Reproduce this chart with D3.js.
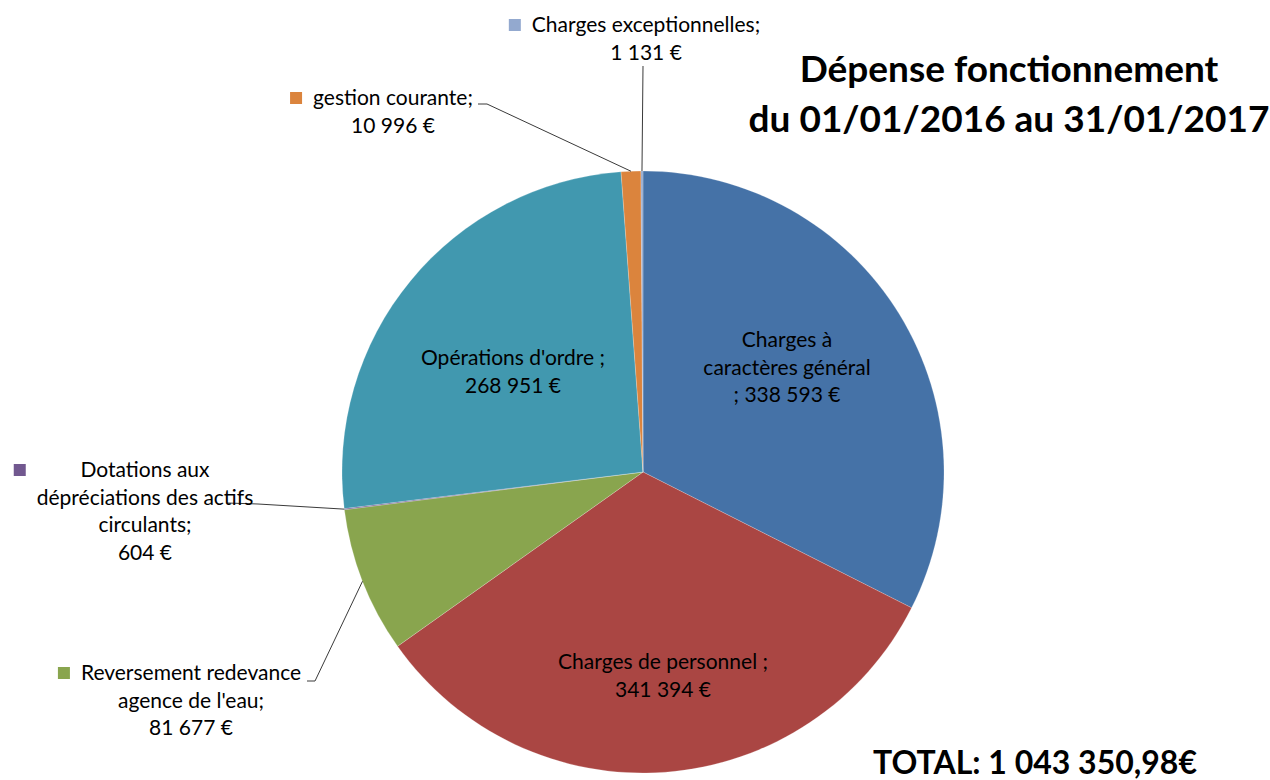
<!DOCTYPE html>
<html>
<head>
<meta charset="utf-8">
<script src="https://cdn.jsdelivr.net/npm/d3@7"></script>
<style>
  body { margin: 0; background: #fff; }
  text { font-family: Lato, "Open Sans", sans-serif; fill: #000; }
</style>
</head>
<body>
<div id="chart"></div>
<script>
// data, slices clockwise from 12 o'clock
var categories = ["Charges à caractères général", "Charges de personnel",
  "Reversement redevance agence de l'eau", "Dotations aux dépréciations des actifs circulants",
  "Opérations d'ordre", "gestion courante", "Charges exceptionnelles"];
var values = [338593, 341394, 81677, 604, 268951, 10996, 1131];
var labelLines = [
  ["Charges à", "caractères général", ";  338 593 €"],
  ["Charges de personnel ;", "341 394 €"],
  ["Reversement redevance", "agence de l'eau;", "81 677 €"],
  ["Dotations aux", "dépréciations des actifs", "circulants;", "604 €"],
  ["Opérations d'ordre ;", "268 951 €"],
  ["gestion courante;", "10 996 €"],
  ["Charges exceptionnelles;", "1 131 €"]
];
var colors = ["#4572A7", "#AA4643", "#89A54E", "#71588F", "#4198AF", "#DB843D", "#93A9CF"];
var titleLines = ["Dépense fonctionnement", "du 01/01/2016 au 31/01/2017"];
var totalLabel = "TOTAL: 1 043 350,98€";

// where each label sits (first baseline), and the label end of its leader line
var labelLayout = [
  {cx: 787, y: 347},
  {cx: 663, y: 669},
  {cx: 191, y: 680, key: true, leader: [[307, 681], [315, 681]]},
  {cx: 145, y: 477, key: true, leader: [[227, 503], [258, 504]]},
  {cx: 513, y: 365},
  {cx: 393, y: 105, key: true, leader: [[478, 104], [487, 104]]},
  {cx: 646, y: 32, key: true, leader: [[643, 66]]}
];

var svgWidth = 1270, svgHeight = 780;
var cx = 643, cy = 472, radius = 301;
var lineH = 27.5;

var svg = d3.select('#chart').append('svg')
  .attr('width', svgWidth).attr('height', svgHeight);

var pie = d3.pie().sort(null).value(d => d);
var arcs = pie(values);
var arc = d3.arc().innerRadius(0).outerRadius(radius);
var edge = d3.arc().innerRadius(radius).outerRadius(radius);

var pieGroup = svg.append('g').attr('transform', `translate(${cx},${cy})`);
pieGroup.selectAll('path')
  .data(arcs)
  .enter()
  .append('path')
  .attr('d', arc)
  .attr('fill', (d, i) => colors[i])
  .attr('stroke', 'rgba(255,255,255,0.35)')
  .attr('stroke-width', 0.6);

// leader lines
arcs.forEach(function(a, i) {
  var lay = labelLayout[i];
  if (!lay.leader) return;
  var p = edge.centroid(a);
  var pts = lay.leader.concat([[cx + p[0], cy + p[1]]]);
  svg.append('path')
    .attr('d', d3.line()(pts))
    .attr('fill', 'none')
    .attr('stroke', '#3a3a3a')
    .attr('stroke-width', 1);
});

// labels
labelLines.forEach(function(lines, i) {
  var lay = labelLayout[i];
  var g = svg.append('g');
  var texts = g.selectAll('text')
    .data(lines)
    .enter()
    .append('text')
    .attr('x', lay.cx)
    .attr('y', (d, j) => lay.y + j * lineH)
    .attr('text-anchor', 'middle')
    .style('font-size', '21px')
    .text(d => d);
  if (lay.key) {
    var left = d3.min(texts.nodes(), n => n.getBBox().x);
    g.append('rect')
      .attr('x', left - 23)
      .attr('y', lay.y - 13)
      .attr('width', 12)
      .attr('height', 12)
      .attr('fill', colors[i]);
  }
});

// title and total
svg.selectAll('.title')
  .data(titleLines)
  .enter()
  .append('text')
  .attr('class', 'title')
  .attr('x', 1009)
  .attr('y', (d, i) => 82 + i * 50)
  .attr('text-anchor', 'middle')
  .style('font-size', '37px')
  .style('font-weight', 'bold')
  .text(d => d);

svg.append('text')
  .attr('x', 1035)
  .attr('y', 774)
  .attr('text-anchor', 'middle')
  .style('font-size', '32px')
  .style('font-weight', 'bold')
  .text(totalLabel);
</script>
</body>
</html>
